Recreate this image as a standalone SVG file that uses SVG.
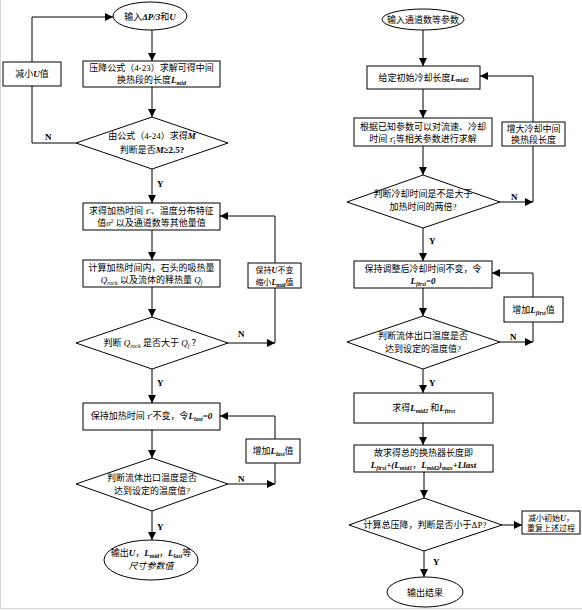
<svg xmlns="http://www.w3.org/2000/svg" width="582" height="610" viewBox="0 0 582 610">
<defs>
<style>
.s{fill:#fff;stroke:#000;stroke-width:1}
.c{fill:none;stroke:#000;stroke-width:1}
.t{font-family:"Liberation Serif","Noto Sans CJK SC",serif;font-size:9px;fill:#000;text-anchor:middle}
.sm{font-size:8px}
.l{font-family:"Liberation Serif",serif;font-size:9px;font-weight:bold;fill:#000}
.v{font-style:italic;font-weight:bold}
.i{font-style:italic}
.sub{font-size:6px}
</style>
<marker id="ah" viewBox="0 0 10 10" refX="10" refY="5" markerWidth="8" markerHeight="8" markerUnits="userSpaceOnUse" orient="auto">
<path d="M0,0 L10,5 L0,10 z" fill="#000"/>
</marker>
</defs>
<rect width="582" height="610" fill="#fff"/>
<path d="M0.5,0 V608.5 H582" fill="none" stroke="#d4d4d4"/>

<g id="connectors">
<line class="c" x1="152" y1="30" x2="152" y2="61" marker-end="url(#ah)"/>
<line class="c" x1="152" y1="87" x2="152" y2="117" marker-end="url(#ah)"/>
<line class="c" x1="152" y1="169" x2="152" y2="203" marker-end="url(#ah)"/>
<line class="c" x1="152" y1="230" x2="152" y2="260" marker-end="url(#ah)"/>
<line class="c" x1="152" y1="287" x2="152" y2="317" marker-end="url(#ah)"/>
<line class="c" x1="152" y1="369" x2="152" y2="403" marker-end="url(#ah)"/>
<line class="c" x1="152" y1="430" x2="152" y2="458" marker-end="url(#ah)"/>
<line class="c" x1="152" y1="511" x2="152" y2="540" marker-end="url(#ah)"/>
<polyline class="c" points="76,143 32,143 32,17 113,17" marker-end="url(#ah)"/>
<line class="c" x1="228" y1="343" x2="275" y2="343" marker-end="url(#ah)"/>
<polyline class="c" points="275,343 275,216 220,216" marker-end="url(#ah)"/>
<line class="c" x1="228" y1="484" x2="275" y2="484" marker-end="url(#ah)"/>
<polyline class="c" points="275,484 275,416 220,416" marker-end="url(#ah)"/>

<line class="c" x1="423" y1="30" x2="423" y2="66" marker-end="url(#ah)"/>
<line class="c" x1="423" y1="89" x2="423" y2="118" marker-end="url(#ah)"/>
<line class="c" x1="423" y1="146" x2="423" y2="175" marker-end="url(#ah)"/>
<line class="c" x1="423" y1="228" x2="423" y2="261" marker-end="url(#ah)"/>
<line class="c" x1="423" y1="288" x2="423" y2="316" marker-end="url(#ah)"/>
<line class="c" x1="423" y1="369" x2="423" y2="393" marker-end="url(#ah)"/>
<line class="c" x1="423" y1="423" x2="423" y2="445" marker-end="url(#ah)"/>
<line class="c" x1="424" y1="472" x2="424" y2="498" marker-end="url(#ah)"/>
<line class="c" x1="424" y1="551" x2="424" y2="577" marker-end="url(#ah)"/>
<line class="c" x1="500" y1="202" x2="533" y2="202" marker-end="url(#ah)"/>
<polyline class="c" points="533,202 533,76 480,76" marker-end="url(#ah)"/>
<line class="c" x1="500" y1="342" x2="533" y2="342" marker-end="url(#ah)"/>
<polyline class="c" points="533,342 533,273 492,273" marker-end="url(#ah)"/>
<line class="c" x1="502" y1="525" x2="522" y2="525" marker-end="url(#ah)"/>

<text class="l" x="45" y="140">N</text>
<text class="l" x="157" y="187">Y</text>
<text class="l" x="238" y="337">N</text>
<text class="l" x="157" y="386">Y</text>
<text class="l" x="238" y="482">N</text>
<text class="l" x="157" y="530">Y</text>
<text class="l" x="511" y="200">N</text>
<text class="l" x="429" y="244">Y</text>
<text class="l" x="510" y="340">N</text>
<text class="l" x="429" y="386">Y</text>
<text class="l" x="433" y="565">Y</text>
</g>

<g id="start-left">
<ellipse class="s" cx="150" cy="16" rx="37" ry="14"/>
<text class="t" x="150" y="19.5">输入<tspan class="v">ΔP/3</tspan>和<tspan class="v">U</tspan></text>
</g>
<g id="box-lmid">
<rect class="s" x="83" y="61" width="137" height="26"/>
<text class="t" x="151.5" y="71">压降公式（4-23）求解可得中间</text>
<text class="t" x="151.5" y="83">换热段的长度<tspan class="v">L</tspan><tspan class="v sub" dy="1.5">mid</tspan></text>
</g>
<g id="dec-m">
<polygon class="s" points="152,117 228,143 152,169 76,143"/>
<text class="t" x="152" y="139">由公式（4-24）求得<tspan class="v">M</tspan></text>
<text class="t" x="152" y="153">判断是否<tspan class="v">M</tspan><tspan font-weight="bold">≥2.5?</tspan></text>
</g>
<g id="box-reduce-u">
<rect class="s" x="3" y="62" width="58" height="24"/>
<text class="t" x="32" y="77">减小<tspan class="v">U</tspan>值</text>
</g>
<g id="box-heat-time">
<rect class="s" x="83" y="203" width="137" height="27"/>
<text class="t" x="151.5" y="213.5">求得加热时间 <tspan class="i">τ̄</tspan> 、温度分布特征</text>
<text class="t" x="151.5" y="226">值<tspan class="i">σ</tspan><tspan class="sub" dy="-3">2</tspan><tspan dy="3"> 以及通道数等其他量值</tspan></text>
</g>
<g id="box-heat-q">
<rect class="s" x="83" y="260" width="137" height="27"/>
<text class="t" x="151.5" y="270.5">计算加热时间内，石头的吸热量</text>
<text class="t" x="151.5" y="283"><tspan class="i">Q</tspan><tspan class="i sub" dy="1.5">rock</tspan><tspan dy="-1.5"> 以及流体的释热量 </tspan><tspan class="i">Q</tspan><tspan class="i sub" dy="1.5">f</tspan></text>
</g>
<g id="dec-q">
<polygon class="s" points="152,317 228,343 152,369 76,343"/>
<text class="t" x="152" y="346">判断 <tspan class="i">Q</tspan><tspan class="i sub" dy="1.5">rock</tspan><tspan dy="-1.5"> 是否大于 </tspan><tspan class="i">Q</tspan><tspan class="i sub" dy="1.5">f</tspan><tspan dy="-1.5"> ？</tspan></text>
</g>
<g id="box-keep-u">
<rect class="s" x="248" y="263" width="53" height="25"/>
<text class="t sm" x="274.5" y="273">保持<tspan class="v">U</tspan>不变</text>
<text class="t sm" x="274.5" y="285">缩小<tspan class="v">L</tspan><tspan class="v sub" dy="1.5">mid</tspan><tspan dy="-1.5">值</tspan></text>
</g>
<g id="box-llast0">
<rect class="s" x="83" y="403" width="137" height="27"/>
<text class="t" x="151.5" y="419">保持加热时间 <tspan class="i">τ̄</tspan> 不变，令<tspan class="v">L</tspan><tspan class="v sub" dy="1.5">last</tspan><tspan class="v" dy="-1.5">=0</tspan></text>
</g>
<g id="dec-temp-left">
<polygon class="s" points="152,458 228,484 152,511 76,484"/>
<text class="t" x="152" y="481">判断流体出口温度是否</text>
<text class="t" x="152" y="494">达到设定的温度值?</text>
</g>
<g id="box-inc-llast">
<rect class="s" x="246" y="439" width="54" height="24"/>
<text class="t" x="273" y="454">增加<tspan class="v">L</tspan><tspan class="v sub" dy="1.5">last</tspan><tspan dy="-1.5">值</tspan></text>
</g>
<g id="end-left">
<ellipse class="s" cx="151" cy="560" rx="47" ry="20"/>
<text class="t" x="151" y="556">输出<tspan class="v">U</tspan>，<tspan class="v">L</tspan><tspan class="v sub" dy="1.5">mid</tspan><tspan dy="-1.5">，</tspan><tspan class="v">L</tspan><tspan class="v sub" dy="1.5">last</tspan><tspan dy="-1.5">等</tspan></text>
<text class="t i" x="151" y="569">尺寸参数值</text>
</g>

<g id="start-right">
<ellipse class="s" cx="423" cy="19.5" rx="41" ry="10.5"/>
<text class="t" x="423" y="23">输入通道数等参数</text>
</g>
<g id="box-lmid2">
<rect class="s" x="367" y="66" width="113" height="23"/>
<text class="t" x="423.5" y="80.5">给定初始冷却长度<tspan class="v">L</tspan><tspan class="v sub" dy="1.5">mid2</tspan></text>
</g>
<g id="box-solve">
<rect class="s" x="354" y="118" width="138" height="28"/>
<text class="t" x="423" y="129.5">根据已知参数可以对流速、冷却</text>
<text class="t" x="423" y="142">时间 <tspan class="i">τ̄</tspan><tspan class="sub" dy="1.5">1</tspan><tspan dy="-1.5">等相关参数进行求解</tspan></text>
</g>
<g id="dec-cool">
<polygon class="s" points="423,175 500,202 423,228 347,202"/>
<text class="t" x="423" y="197">判断冷却时间是不是大于</text>
<text class="t" x="423" y="210">加热时间的两倍?</text>
</g>
<g id="box-inc-cool">
<rect class="s" x="502" y="122" width="63" height="24"/>
<text class="t" x="533.5" y="132">增大冷却中间</text>
<text class="t" x="533.5" y="143">换热段长度</text>
</g>
<g id="box-lfirst0">
<rect class="s" x="354" y="261" width="138" height="27"/>
<text class="t" x="423" y="272">保持调整后冷却时间不变，令</text>
<text class="t" x="423" y="284"><tspan class="v">L</tspan><tspan class="v sub" dy="1.5">first</tspan><tspan class="v" dy="-1.5">=0</tspan></text>
</g>
<g id="dec-temp-right">
<polygon class="s" points="423,316 500,342 423,369 347,342"/>
<text class="t" x="423" y="339">判断流体出口温度是否</text>
<text class="t" x="423" y="352">达到设定的温度值?</text>
</g>
<g id="box-inc-lfirst">
<rect class="s" x="504" y="297" width="59" height="25"/>
<text class="t" x="533.5" y="313">增加<tspan class="v">L</tspan><tspan class="v sub" dy="1.5">first</tspan><tspan dy="-1.5">值</tspan></text>
</g>
<g id="box-get">
<rect class="s" x="354" y="393" width="139" height="30"/>
<text class="t" x="423.5" y="411">求得<tspan class="v">L</tspan><tspan class="v sub" dy="1.5">mid2</tspan><tspan dy="-1.5"> 和</tspan><tspan class="v">L</tspan><tspan class="v sub" dy="1.5">first</tspan></text>
</g>
<g id="box-total">
<rect class="s" x="354" y="445" width="139" height="27"/>
<text class="t" x="423.5" y="456">故求得总的换热器长度即</text>
<text class="t" x="423.5" y="468"><tspan class="v">L</tspan><tspan class="v sub" dy="1.5">first</tspan><tspan class="v" dy="-1.5">+(L</tspan><tspan class="v sub" dy="1.5">mid1</tspan><tspan dy="-1.5">，</tspan><tspan class="v">L</tspan><tspan class="v sub" dy="1.5">mid2</tspan><tspan class="v" dy="-1.5">)</tspan><tspan class="v sub" dy="1.5">max</tspan><tspan class="v" dy="-1.5">+Llast</tspan></text>
</g>
<g id="dec-dp">
<polygon class="s" points="424,498 502,525 424,551 349,525"/>
<text class="t" x="425" y="528">计算总压降，判断是否小于ΔP?</text>
</g>
<g id="box-reduce-init-u">
<rect class="s" x="522" y="511" width="58" height="23"/>
<text class="t sm" x="551" y="520.5">减小初始<tspan class="v">U</tspan>，</text>
<text class="t sm" x="551" y="531">重复上述过程</text>
</g>
<g id="end-right">
<ellipse class="s" cx="425" cy="592" rx="38" ry="15"/>
<text class="t" x="425" y="595.5">输出结果</text>
</g>
</svg>
